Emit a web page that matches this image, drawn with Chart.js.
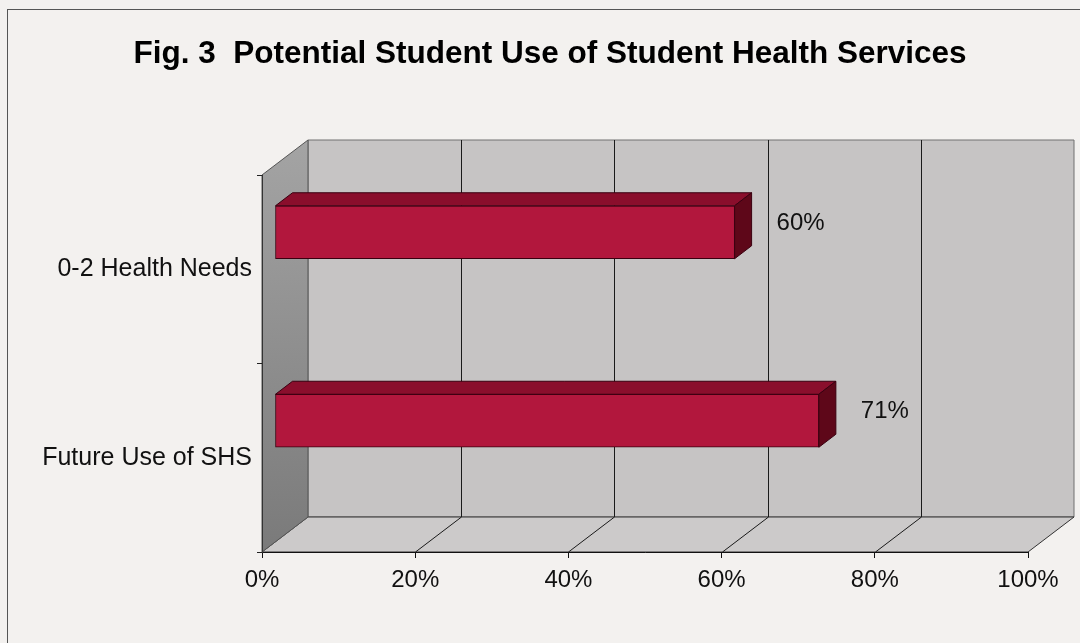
<!DOCTYPE html>
<html>
<head>
<meta charset="utf-8">
<script src="https://cdn.jsdelivr.net/npm/chart.js@4/dist/chart.umd.min.js"></script>
<style>
  html, body { margin: 0; padding: 0; background: #f3f1ef; }
  #wrap { width: 1080px; height: 643px; position: relative; }
</style>
</head>
<body>
<div id="wrap"><canvas id="chart" width="1080" height="643"></canvas></div>
<script>
// survey results
const categories = ['0-2 Health Needs', 'Future Use of SHS'];
const shares = [0.60, 0.71];
const tickStep = 0.2;
const heading = 'Fig. 3  Potential Student Use of Student Health Services';

const FONT = "'Liberation Sans', Arial, sans-serif";

// fake 3d: how far the back wall sits behind the front plane
const WALL = { dx: 46, dy: 35 };
// bars sit a little way into the box, and have their own depth
const BAR_SHIFT = { x: 13, y: -37 };
const BAR_DEPTH = { dx: 17, dy: 13 };

function poly(ctx, pts, fill, stroke) {
  ctx.beginPath();
  ctx.moveTo(pts[0][0], pts[0][1]);
  for (let i = 1; i < pts.length; i++) ctx.lineTo(pts[i][0], pts[i][1]);
  ctx.closePath();
  if (fill) { ctx.fillStyle = fill; ctx.fill(); }
  if (stroke) { ctx.strokeStyle = stroke; ctx.lineWidth = 1; ctx.stroke(); }
}

const box3d = {
  id: 'box3d',
  beforeDraw(chart) {
    const { ctx, chartArea: a, scales } = chart;
    const L = a.left, R = a.right, T = a.top, B = a.bottom;
    const dx = WALL.dx, dy = WALL.dy;

    ctx.save();
    // page + frame
    ctx.fillStyle = '#f3f1ef';
    ctx.fillRect(0, 0, chart.width, chart.height);
    ctx.strokeStyle = '#555';
    ctx.lineWidth = 1;
    ctx.strokeRect(7.5, 9.5, chart.width + 20, chart.height + 20);

    // heading (frame starts a few px in, so nudge right)
    ctx.fillStyle = '#000';
    ctx.font = 'bold 31.5px ' + FONT;
    ctx.textAlign = 'center';
    ctx.textBaseline = 'middle';
    ctx.fillText(heading, chart.width / 2 + 10, 54);

    // back wall
    poly(ctx, [[L + dx, T - dy], [R + dx, T - dy], [R + dx, B - dy], [L + dx, B - dy]], '#c6c4c4', '#707070');

    // floor
    poly(ctx, [[L, B], [R, B], [R + dx, B - dy], [L + dx, B - dy]], '#cccaca', '#333');

    // side wall
    const g = ctx.createLinearGradient(0, T - dy, 0, B);
    g.addColorStop(0, '#a4a4a4');
    g.addColorStop(1, '#7a7a7a');
    poly(ctx, [[L, T], [L + dx, T - dy], [L + dx, B - dy], [L, B]], g, '#555');

    // gridlines on floor and back wall
    ctx.strokeStyle = '#1a1a1a';
    ctx.lineWidth = 1;
    const xs = scales.x;
    xs.ticks.forEach(t => {
      if (t.value <= 0 || t.value >= 1) return;
      const px = Math.round(xs.getPixelForValue(t.value)) + 0.5;
      ctx.beginPath();
      ctx.moveTo(px, B);
      ctx.lineTo(px + dx, B - dy);
      ctx.lineTo(px + dx, T - dy);
      ctx.stroke();
    });
    ctx.restore();
  },
  beforeDatasetsDraw(chart) {
    chart.ctx.save();
    chart.ctx.translate(BAR_SHIFT.x, BAR_SHIFT.y);
  },
  afterDatasetsDraw(chart) {
    const { ctx } = chart;
    const meta = chart.getDatasetMeta(0);
    meta.data.forEach((bar, i) => {
      const p = bar.getProps(['x', 'y', 'base', 'height'], true);
      const x0 = p.base, x1 = p.x;
      const y0 = p.y - p.height / 2, y1 = p.y + p.height / 2;
      const dx = BAR_DEPTH.dx, dy = BAR_DEPTH.dy;
      // top face
      poly(ctx, [[x0, y0], [x1, y0], [x1 + dx, y0 - dy], [x0 + dx, y0 - dy]], '#8a0e2c', '#3a0010');
      // end face
      poly(ctx, [[x1, y0], [x1 + dx, y0 - dy], [x1 + dx, y1 - dy], [x1, y1]], '#5e0719', '#3a0010');

      ctx.fillStyle = '#111';
      ctx.font = '24px ' + FONT;
      ctx.textAlign = 'left';
      ctx.textBaseline = 'middle';
      ctx.fillText(Math.round(shares[i] * 100) + '%', x1 + dx + 25, p.y - 9);
    });
    ctx.restore();
  }
};

new Chart(document.getElementById('chart'), {
  type: 'bar',
  data: {
    labels: categories,
    datasets: [{
      data: shares,
      backgroundColor: '#b2173d',
      borderColor: '#3a0010',
      borderWidth: 1,
      borderSkipped: false,
      barThickness: 53,
      clip: false
    }]
  },
  options: {
    indexAxis: 'y',
    responsive: false,
    animation: false,
    events: [],
    layout: { padding: { left: 0, right: 52, top: 175, bottom: 0 } },
    plugins: {
      legend: { display: false },
      tooltip: { enabled: false },
      title: { display: false }
    },
    scales: {
      x: {
        min: 0,
        max: 1,
        ticks: {
          stepSize: tickStep,
          color: '#111',
          font: { family: FONT, size: 24 },
          padding: 8,
          callback: v => Math.round(v * 100) + '%'
        },
        grid: { display: true, drawOnChartArea: false, drawTicks: true, tickLength: 6, color: '#111' },
        border: { display: true, color: '#111', width: 1 },
        afterFit(scale) { scale.height = 91; }
      },
      y: {
        ticks: {
          color: '#111',
          font: { family: FONT, size: 25 },
          padding: 5
        },
        grid: { display: true, offset: true, drawOnChartArea: false, drawTicks: true, tickLength: 5, color: '#222' },
        border: { display: true, color: '#333', width: 1 },
        afterFit(scale) { scale.width = 262; }
      }
    }
  },
  plugins: [box3d]
});
</script>
</body>
</html>
